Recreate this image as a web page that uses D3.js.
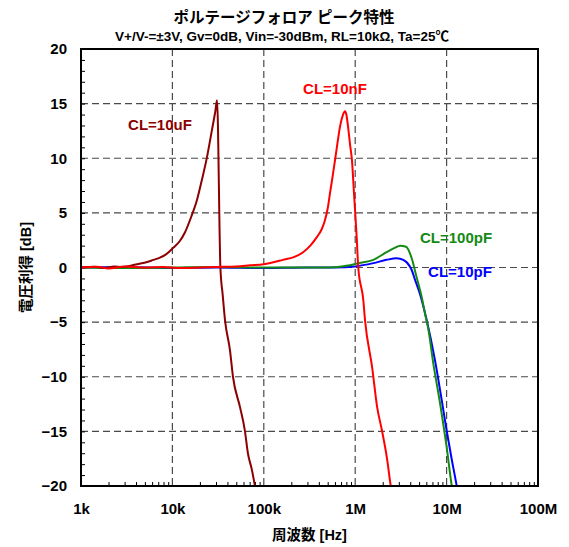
<!DOCTYPE html>
<html>
<head>
<meta charset="utf-8">
<script src="https://cdn.jsdelivr.net/npm/d3@7"></script>
<style>
  body { margin: 0; background: #fff; }
  svg text { font-family: "Liberation Sans", "Noto Sans CJK JP", sans-serif; font-weight: bold; fill: #000; }
</style>
</head>
<body>
<div id="chart"></div>
<script>
// axis ticks
const xDecades = [1e3, 1e4, 1e5, 1e6, 1e7, 1e8];
const xTickLabels = ["1k", "10k", "100k", "1M", "10M", "100M"];
const yTicks = [-20, -15, -10, -5, 0, 5, 10, 15, 20];

// CL=10uF
const freq10uF = [1000, 1400, 1800, 2300, 2800, 3400, 4100, 5300, 6200, 7300, 8500, 10200, 12000, 13700, 16000, 18600, 21000, 23900, 27100, 29500, 30800, 33500, 35500, 37600, 42700, 46000, 55000, 62000, 67000, 74000, 80000, 84000];
const gain10uF = [0, 0.08, -0.05, 0.1, 0.05, 0.15, 0.3, 0.5, 0.7, 0.9, 1.2, 1.8, 2.4, 3.2, 4.6, 6.2, 8.0, 10.1, 12.6, 14.3, 15.3, 0, -2.5, -4.8, -7.6, -10, -12.8, -14.9, -17, -18.5, -20, -21];

// CL=10nF
const freq10nF = [1000, 1500, 2000, 3000, 5000, 8000, 12000, 20000, 30000, 50000, 70700, 100000, 162000, 220000, 269000, 330000, 382000, 430000, 466000, 500000, 530000, 565000, 601000, 640000, 682000, 730000, 773000, 800000, 835000, 880000, 922000, 970000, 1038000, 1080000, 1227000, 1280000, 1530000, 1740000, 1960000, 2240000, 2450000, 2600000];
const gain10nF = [0, 0.08, -0.1, 0.1, 0, 0.05, -0.05, 0, 0.05, 0.1, 0.2, 0.3, 0.7, 1.0, 1.4, 2.1, 2.8, 3.5, 4.3, 5.4, 6.8, 8.3, 9.8, 11.4, 12.9, 13.9, 14.3, 14.0, 12.9, 11.2, 9.8, 6.8, 2.8, 0, -3, -4.8, -9.1, -12.8, -14.9, -17.6, -20, -21];

// CL=100pF
const freq100pF = [1000, 3000, 10000, 30000, 100000, 300000, 530000, 800000, 1100000, 1580000, 2200000, 2700000, 3100000, 3600000, 4150000, 4700000, 5340000, 5800000, 6300000, 7160000, 8470000, 10000000, 11400000, 12000000];
const gain100pF = [0, -0.05, 0, 0.05, 0, 0, 0, 0.15, 0.4, 0.7, 1.4, 1.8, 2.0, 1.9, 0.85, -0.9, -2.7, -4.2, -5.6, -8.8, -12.4, -16.4, -20, -21];

// CL=10pF
const freq10pF = [1000, 3000, 10000, 30000, 100000, 300000, 600000, 1000000, 1580000, 2200000, 2840000, 3360000, 3980000, 4150000, 4500000, 5100000, 6050000, 7470000, 8830000, 10000000, 11400000, 12900000, 13500000];
const gain10pF = [0, 0.05, -0.05, 0, -0.05, 0, 0, 0.1, 0.4, 0.7, 0.85, 0.7, 0.07, -0.23, -1.1, -2.4, -4.8, -8.5, -12.1, -14.9, -17.6, -20, -21];

const series = [
  { name: "CL=10pF", freq: freq10pF, gain: gain10pF, color: "#0000ff", lx: 460, ly: 277 },
  { name: "CL=100pF", freq: freq100pF, gain: gain100pF, color: "#138a13", lx: 456, ly: 243 },
  { name: "CL=10uF", freq: freq10uF, gain: gain10uF, color: "#8b0000", lx: 160, ly: 130 },
  { name: "CL=10nF", freq: freq10nF, gain: gain10nF, color: "#ff0000", lx: 335, ly: 94 }
];

const W = 569, H = 547;
const margin = { top: 49, right: 31, bottom: 61, left: 81 };
const width = W - margin.left - margin.right;
const height = H - margin.top - margin.bottom;

const svg = d3.select("#chart").append("svg")
  .attr("width", W).attr("height", H);

const g = svg.append("g")
  .attr("transform", "translate(" + margin.left + "," + margin.top + ")");

const x = d3.scaleLog().domain([1e3, 1e8]).range([0, width]);
const y = d3.scaleLinear().domain([-20, 20]).range([height, 0]);

// dashed grid
g.append("g").selectAll("line")
  .data(xDecades.slice(1, -1)).enter().append("line")
  .attr("x1", d => x(d)).attr("x2", d => x(d))
  .attr("y1", 0).attr("y2", height)
  .attr("stroke", "#4a4a4a").attr("stroke-width", 1.2)
  .attr("stroke-dasharray", "7,4");

g.append("g").selectAll("line")
  .data(yTicks.slice(1, -1)).enter().append("line")
  .attr("x1", 0).attr("x2", width)
  .attr("y1", d => y(d)).attr("y2", d => y(d))
  .attr("stroke", "#4a4a4a").attr("stroke-width", 1.2)
  .attr("stroke-dasharray", "7,4");

// minor ticks (inward)
const minorX = [];
xDecades.slice(0, -1).forEach(d => { for (let k = 2; k <= 9; k++) minorX.push(d * k); });
g.append("g")
  .attr("transform", "translate(0," + height + ")")
  .call(d3.axisBottom(x).tickValues(minorX).tickSize(-4).tickFormat(""))
  .call(a => a.select(".domain").remove())
  .selectAll("line").attr("stroke", "#000");

g.append("g")
  .call(d3.axisLeft(y).tickValues(d3.range(-19, 20)).tickSize(-4).tickFormat(""))
  .call(a => a.select(".domain").remove())
  .selectAll("line").attr("stroke", "#000");

// tick labels
g.append("g")
  .attr("transform", "translate(0," + height + ")")
  .call(d3.axisBottom(x).tickValues(xDecades).tickSize(0).tickPadding(17)
    .tickFormat((d, i) => xTickLabels[i]))
  .call(a => a.select(".domain").remove())
  .selectAll("text")
  .attr("fill", "#000").style("font-size", "15px");

g.append("g")
  .call(d3.axisLeft(y).tickValues(yTicks).tickSize(0).tickPadding(14))
  .call(a => a.select(".domain").remove())
  .selectAll("text")
  .attr("fill", "#000").style("font-size", "15px");

// data lines
g.append("clipPath").attr("id", "plotclip")
  .append("rect").attr("width", width).attr("height", height);

const line = d3.line()
  .x(d => x(d[0]))
  .y(d => y(d[1]))
  .curve(d3.curveMonotoneX);

const lines = g.append("g").attr("clip-path", "url(#plotclip)");
series.forEach(s => {
  lines.append("path")
    .datum(s.freq.map((f, i) => [f, s.gain[i]]))
    .attr("d", line)
    .attr("fill", "none")
    .attr("stroke", s.color)
    .attr("stroke-width", 2);
});

// border
g.append("rect")
  .attr("width", width).attr("height", height)
  .attr("fill", "none").attr("stroke", "#000").attr("stroke-width", 2);

// curve labels
series.forEach(s => {
  g.append("text")
    .attr("x", s.lx - margin.left).attr("y", s.ly - margin.top)
    .attr("text-anchor", "middle")
    .style("fill", s.color)
    .style("font-size", "15px")
    .text(s.name);
});

// titles
svg.append("text")
  .attr("x", 284).attr("y", 23)
  .attr("text-anchor", "middle")
  .style("font-size", "15.5px")
  .text("ポルテージフォロア ピーク特性");

svg.append("text")
  .attr("x", 282).attr("y", 41)
  .attr("text-anchor", "middle")
  .style("font-size", "13.5px")
  .text("V+/V-=±3V, Gv=0dB, Vin=-30dBm, RL=10kΩ, Ta=25℃");

svg.append("text")
  .attr("x", margin.left + width / 2).attr("y", 540)
  .attr("text-anchor", "middle")
  .style("font-size", "14.5px")
  .text("周波数 [Hz]");

svg.append("text")
  .attr("transform", "translate(31," + (margin.top + height / 2) + ") rotate(-90)")
  .attr("text-anchor", "middle")
  .style("font-size", "14.5px")
  .text("電圧利得 [dB]");
</script>
</body>
</html>
